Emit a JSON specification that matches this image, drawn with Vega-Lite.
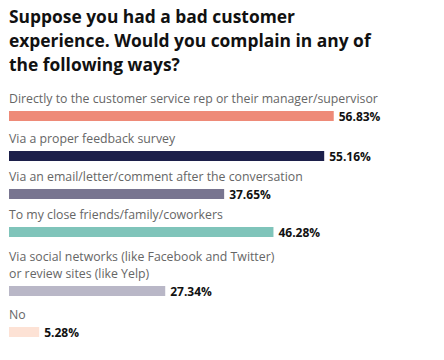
{
  "$schema": "https://vega.github.io/schema/vega-lite/v6.json",
  "background": "white",
  "padding": {"left": 9, "top": 8, "right": 0, "bottom": 16},
  "bounds": "flush",
  "title": {
    "text": ["Suppose you had a bad customer", "experience. Would you complain in any of", "the following ways?"],
    "anchor": "start",
    "font": "Open Sans",
    "fontSize": 17.4,
    "fontWeight": "bold",
    "color": "#111111",
    "lineHeight": 24,
    "offset": 19
  },
  "datasets": {
    "main": [
      {"rank": 1, "label": "Directly to the customer service rep or their manager/supervisor", "share": 0.5683},
      {"rank": 2, "label": "Via a proper feedback survey", "share": 0.5516},
      {"rank": 3, "label": "Via an email/letter/comment after the conversation", "share": 0.3765},
      {"rank": 4, "label": "To my close friends/family/coworkers", "share": 0.4628},
      {"rank": 5, "label": "Via social networks (like Facebook and Twitter)\nor review sites (like Yelp)", "share": 0.2734},
      {"rank": 6, "label": "No", "share": 0.0528}
    ]
  },
  "data": {"name": "main"},
  "spacing": 0,
  "config": {
    "view": {"stroke": null},
    "text": {"font": "Open Sans"}
  },
  "vconcat": [
    {
      "width": 400, "height": 34,
      "transform": [{"filter": "datum.rank == 1"}],
      "layer": [
        {"mark": {"type": "bar", "height": 10, "color": "#EE8A78"},
         "encoding": {"x": {"field": "share", "type": "quantitative", "scale": {"domain": [0, 0.697]}, "axis": null}}},
        {"mark": {"type": "text", "align": "left", "baseline": "bottom", "dy": -10, "fontSize": 12.3, "color": "#666666", "lineBreak": "\n", "lineHeight": 17},
         "encoding": {"x": {"datum": 0, "type": "quantitative"}, "text": {"field": "label"}}},
        {"mark": {"type": "text", "align": "left", "baseline": "middle", "dx": 5, "dy": 1, "fontSize": 12, "fontWeight": "bold", "color": "#111111"},
         "encoding": {"x": {"field": "share", "type": "quantitative"}, "text": {"field": "share", "format": ".2%"}}}
      ]
    },
    {
      "width": 400, "height": 46,
      "transform": [{"filter": "datum.rank == 2"}],
      "layer": [
        {"mark": {"type": "bar", "height": 10, "color": "#1C1F4A"},
         "encoding": {"x": {"field": "share", "type": "quantitative", "scale": {"domain": [0, 0.697]}, "axis": null}}},
        {"mark": {"type": "text", "align": "left", "baseline": "bottom", "dy": -10, "fontSize": 12.3, "color": "#666666", "lineBreak": "\n", "lineHeight": 17},
         "encoding": {"x": {"datum": 0, "type": "quantitative"}, "text": {"field": "label"}}},
        {"mark": {"type": "text", "align": "left", "baseline": "middle", "dx": 5, "dy": 1, "fontSize": 12, "fontWeight": "bold", "color": "#111111"},
         "encoding": {"x": {"field": "share", "type": "quantitative"}, "text": {"field": "share", "format": ".2%"}}}
      ]
    },
    {
      "width": 400, "height": 30,
      "transform": [{"filter": "datum.rank == 3"}],
      "layer": [
        {"mark": {"type": "bar", "height": 10, "color": "#787590"},
         "encoding": {"x": {"field": "share", "type": "quantitative", "scale": {"domain": [0, 0.697]}, "axis": null}}},
        {"mark": {"type": "text", "align": "left", "baseline": "bottom", "dy": -10, "fontSize": 12.3, "color": "#666666", "lineBreak": "\n", "lineHeight": 17},
         "encoding": {"x": {"datum": 0, "type": "quantitative"}, "text": {"field": "label"}}},
        {"mark": {"type": "text", "align": "left", "baseline": "middle", "dx": 5, "dy": 1, "fontSize": 12, "fontWeight": "bold", "color": "#111111"},
         "encoding": {"x": {"field": "share", "type": "quantitative"}, "text": {"field": "share", "format": ".2%"}}}
      ]
    },
    {
      "width": 400, "height": 46,
      "transform": [{"filter": "datum.rank == 4"}],
      "layer": [
        {"mark": {"type": "bar", "height": 10, "color": "#7FC4BA"},
         "encoding": {"x": {"field": "share", "type": "quantitative", "scale": {"domain": [0, 0.697]}, "axis": null}}},
        {"mark": {"type": "text", "align": "left", "baseline": "bottom", "dy": -10, "fontSize": 12.3, "color": "#666666", "lineBreak": "\n", "lineHeight": 17},
         "encoding": {"x": {"datum": 0, "type": "quantitative"}, "text": {"field": "label"}}},
        {"mark": {"type": "text", "align": "left", "baseline": "middle", "dx": 5, "dy": 1, "fontSize": 12, "fontWeight": "bold", "color": "#111111"},
         "encoding": {"x": {"field": "share", "type": "quantitative"}, "text": {"field": "share", "format": ".2%"}}}
      ]
    },
    {
      "width": 400, "height": 72,
      "transform": [{"filter": "datum.rank == 5"}],
      "layer": [
        {"mark": {"type": "bar", "height": 10, "color": "#B9B7C7"},
         "encoding": {"x": {"field": "share", "type": "quantitative", "scale": {"domain": [0, 0.697]}, "axis": null}}},
        {"mark": {"type": "text", "align": "left", "baseline": "bottom", "dy": -27, "fontSize": 12.3, "color": "#666666", "lineBreak": "\n", "lineHeight": 17},
         "encoding": {"x": {"datum": 0, "type": "quantitative"}, "text": {"field": "label"}}},
        {"mark": {"type": "text", "align": "left", "baseline": "middle", "dx": 5, "dy": 1, "fontSize": 12, "fontWeight": "bold", "color": "#111111"},
         "encoding": {"x": {"field": "share", "type": "quantitative"}, "text": {"field": "share", "format": ".2%"}}}
      ]
    },
    {
      "width": 400, "height": 10,
      "transform": [{"filter": "datum.rank == 6"}],
      "layer": [
        {"mark": {"type": "bar", "height": 10, "color": "#FDE2D5"},
         "encoding": {"x": {"field": "share", "type": "quantitative", "scale": {"domain": [0, 0.697]}, "axis": null}}},
        {"mark": {"type": "text", "align": "left", "baseline": "bottom", "dy": -10, "fontSize": 12.3, "color": "#666666", "lineBreak": "\n", "lineHeight": 17},
         "encoding": {"x": {"datum": 0, "type": "quantitative"}, "text": {"field": "label"}}},
        {"mark": {"type": "text", "align": "left", "baseline": "middle", "dx": 5, "dy": 1, "fontSize": 12, "fontWeight": "bold", "color": "#111111"},
         "encoding": {"x": {"field": "share", "type": "quantitative"}, "text": {"field": "share", "format": ".2%"}}}
      ]
    }
  ]
}
